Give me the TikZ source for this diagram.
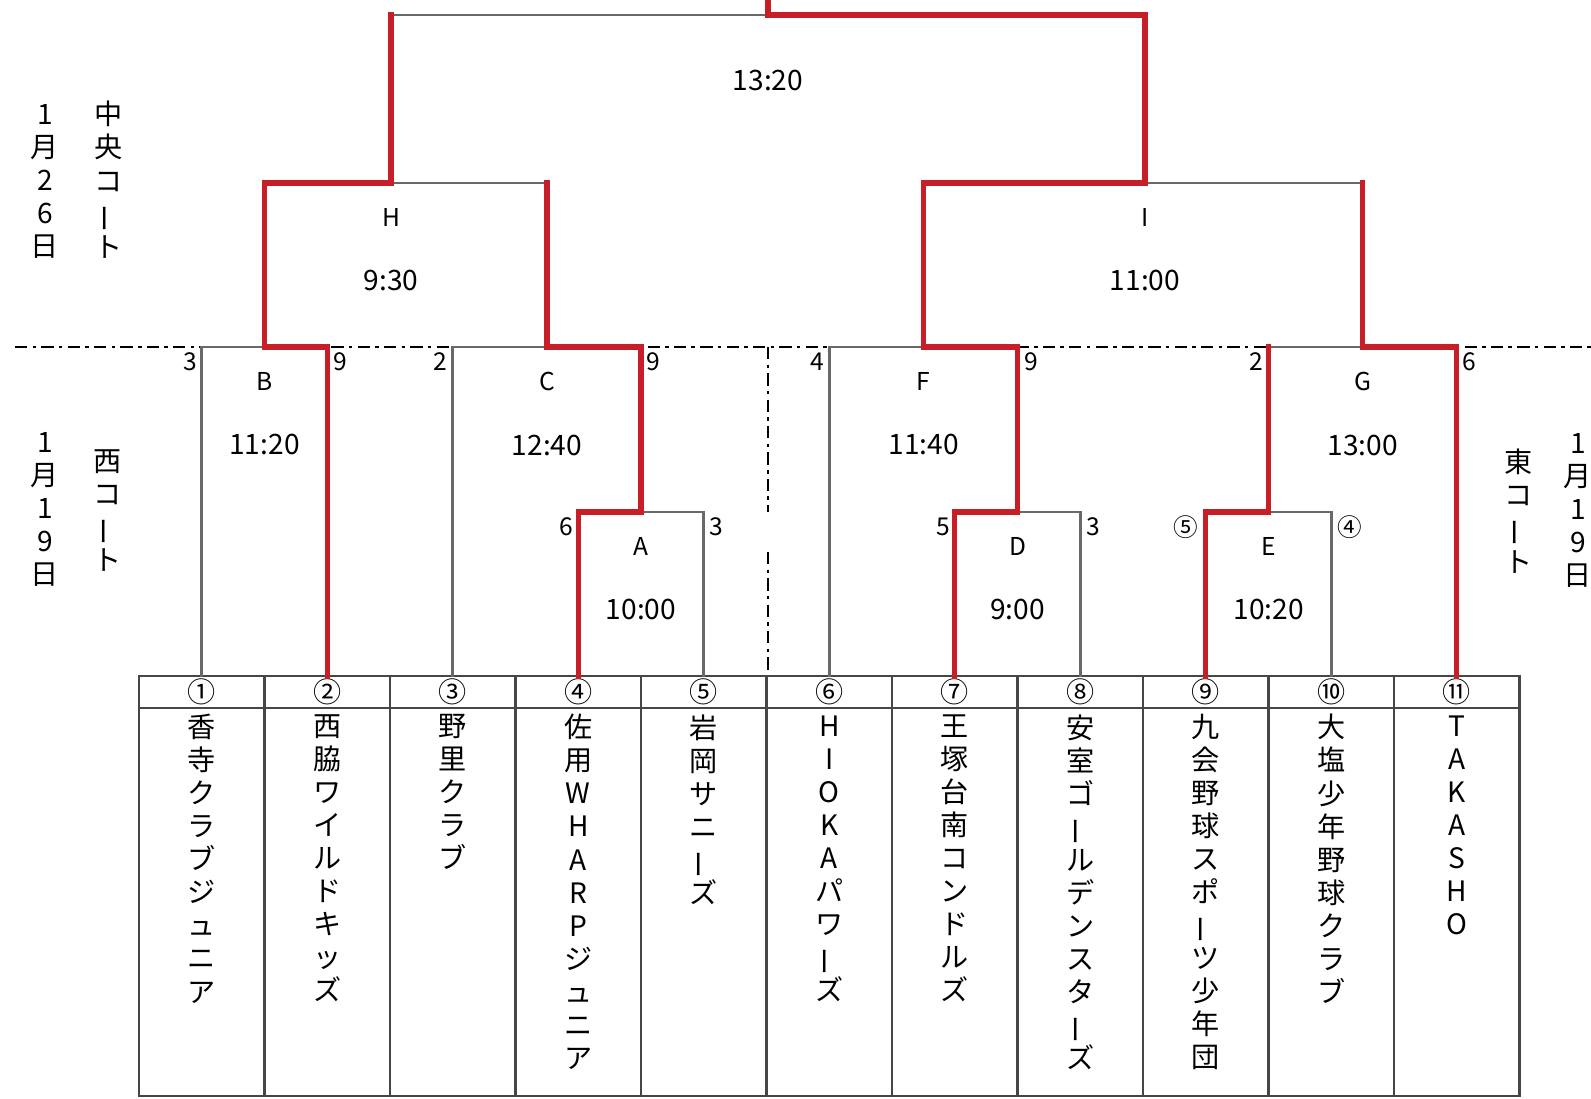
\documentclass[tikz,border=0pt]{standalone}
\usepackage{fontspec}
\setmainfont{Noto Sans CJK JP}
\usepackage{graphicx}
\usetikzlibrary{positioning}

\definecolor{wincol}{RGB}{200,30,40}
\definecolor{losecol}{RGB}{105,105,105}
\definecolor{gridcol}{RGB}{70,70,70}

\makeatletter
\def\tatebar{ー}
\newcommand{\tate}[1]{%
  \edef\tatelist{#1}%
  \vbox{\baselineskip=18.8pt\lineskiplimit=-\maxdimen
    \expandafter\@tfor\expandafter\tatech\expandafter:\expandafter=\tatelist\do{%
      \hbox to 0pt{\hss\vphantom{国}\ifx\tatech\tatebar\rotatebox[origin=c]{90}{ー}\else\tatech\fi\hss}}}}
\makeatother

\begin{document}
\begin{tikzpicture}[x=0.02cm, y=-0.02cm,
    win/.style={wincol, line width=3pt, line cap=rect},
    lose/.style={losecol, line width=1.5pt, line cap=rect},
    tablebox/.style={gridcol, line width=1.5pt},
    court/.style={black, line width=1.6pt, dash pattern=on 7pt off 3pt on 2pt off 3pt},
    game/.style={font=\fontsize{14}{16}\selectfont, inner sep=0pt},
    clock/.style={font=\fontsize{16}{18}\selectfont, inner sep=0pt},
    score/.style={font=\fontsize{14}{16}\selectfont, inner sep=0pt},
    num/.style={font=\fontsize{16}{18}\selectfont, inner sep=0pt},
    team/.style={font=\fontsize{16}{18}\selectfont, inner sep=0pt, anchor=north},
  ]
  \useasboundingbox (0,0) rectangle (1591,1098);

  % table of teams
  \draw[tablebox] (139,676) rectangle (1519.5,1096);
  \draw[tablebox] (139,708) -- (1519.5,708);
  \foreach \k in {1,...,10}
    \draw[tablebox] ({139+125.5*\k},676) -- ({139+125.5*\k},1096);

  % court borders
  \draw[court] (15,347) -- (1591,347);
  \draw[court] (768,347) -- (768,512);
  \draw[court] (768,552) -- (768,672);

  \foreach \i/\c/\nm in {1/①/香寺クラブジュニア, 2/②/西脇ワイルドキッズ, 3/③/野里クラブ,
      4/④/佐用WHARPジュニア, 5/⑤/岩岡サニーズ, 6/⑥/HIOKAパワーズ, 7/⑦/王塚台南コンドルズ,
      8/⑧/安室ゴールデンスターズ, 9/⑨/九会野球スポーツ少年団, 10/⑩/大塩少年野球クラブ, 11/⑪/TAKASHO} {
    \coordinate (t\i) at ({139+125.5*(\i-0.5)},676);
    \node[num] (n\i) at ({139+125.5*(\i-0.5)},692) {\c};
    \node[team] (m\i) at ({139+125.5*(\i-0.5)},714) {\tate{\nm}};
  }

  % games
  \coordinate (A) at (641,512);
  \coordinate (D) at (1017.5,512);
  \coordinate (E) at (1268.5,512);
  \coordinate (B) at (264.5,347);
  \coordinate (C) at (547,347);
  \coordinate (F) at (923.5,347);
  \coordinate (G) at (1362.5,347);
  \coordinate (H) at (391,183);
  \coordinate (I) at (1145,183);
  \coordinate (W) at (768,15);
  \coordinate (cup) at (768,0);

  \draw[lose] (t1) |- (B);
  \draw[lose] (t3) |- (C);
  \draw[lose] (t5) |- (A);
  \draw[lose] (t6) |- (F);
  \draw[lose] (t8) |- (D);
  \draw[lose] (t10) |- (E);
  \draw[lose] (E |- G) -- (G);
  \draw[lose] (C |- H) -- (H);
  \draw[lose] (G |- I) -- (I);
  \draw[lose] (H |- W) -- (W);

  \draw[win] (t2) |- (B);
  \draw[win] (t4) |- (A);
  \draw[win] (t7) |- (D);
  \draw[win] (t9) |- (E);
  \draw[win] (t11) |- (G);
  \draw[win] (A) |- (C);
  \draw[win] (D) |- (F);
  \draw[win] (E) -- (E |- G);
  \draw[win] (B) |- (H);
  \draw[win] (C) -- (C |- H);
  \draw[win] (F) |- (I);
  \draw[win] (G) -- (G |- I);
  \draw[win] (H) -- (H |- W);
  \draw[win] (I) |- (W) -- (cup);

  % game names and times
  \node[clock, below=1.1cm of W] (kW) {13:20};
  \node[game, below=0.5cm of H] (gH) {H};
  \node[clock, below=0.86cm of gH] (kH) {9:30};
  \node[game, below=0.5cm of I] (gI) {I};
  \node[clock, below=0.86cm of gI] (kI) {11:00};
  \node[game, below=0.5cm of B] (gB) {B};
  \node[clock, below=0.86cm of gB] (kB) {11:20};
  \node[game, below=0.5cm of C] (gC) {C};
  \node[clock, below=0.86cm of gC] (kC) {12:40};
  \node[game, below=0.5cm of F] (gF) {F};
  \node[clock, below=0.86cm of gF] (kF) {11:40};
  \node[game, below=0.5cm of G] (gG) {G};
  \node[clock, below=0.86cm of gG] (kG) {13:00};
  \node[game, below=0.5cm of A] (gA) {A};
  \node[clock, below=0.86cm of gA] (kA) {10:00};
  \node[game, below=0.5cm of D] (gD) {D};
  \node[clock, below=0.86cm of gD] (kD) {9:00};
  \node[game, below=0.5cm of E] (gE) {E};
  \node[clock, below=0.86cm of gE] (kE) {10:20};

  % scores
  \node[score] (sB1) at (190,362) {3};
  \node[score] (sB2) at (340,362) {9};
  \node[score] (sC1) at (440,362) {2};
  \node[score] (sC2) at (653,362) {9};
  \node[score] (sF1) at (817,362) {4};
  \node[score] (sF2) at (1031,362) {9};
  \node[score] (sG1) at (1256,362) {2};
  \node[score] (sG2) at (1469,362) {6};
  \node[score] (sA1) at (566,527) {6};
  \node[score] (sA2) at (716,527) {3};
  \node[score] (sD1) at (943,527) {5};
  \node[score] (sD2) at (1093,527) {3};
  \node[score] (sE1) at (1186,527) {⑤};
  \node[score] (sE2) at (1350,527) {④};

  % days and courts
  \node[team] (d1) at (45,102) {\tate{1月26日}};
  \node[team] (c1) at (109,101) {\tate{中央コート}};
  \node[team] (d2) at (45,430) {\tate{1月19日}};
  \node[team] (c2) at (108,449) {\tate{西コート}};
  \node[team] (c3) at (1519,449) {\tate{東コート}};
  \node[team] (d3) at (1578,431) {\tate{1月19日}};
\end{tikzpicture}
\end{document}
